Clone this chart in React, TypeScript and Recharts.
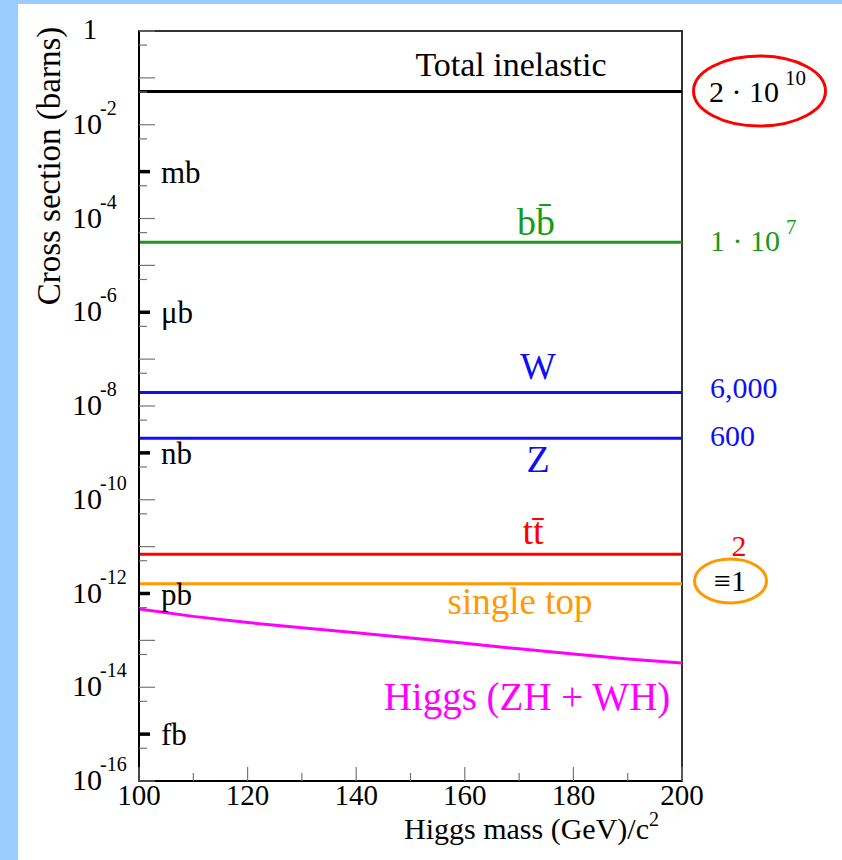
import React from "react";
import { LineChart, Line, XAxis, YAxis, ReferenceArea } from "recharts";

// x range of the plot (Higgs mass, GeV/c^2)
const massRange = [100, 200];
const xTicks = [100, 110, 120, 130, 140, 150, 160, 170, 180, 190, 200];

// y ticks: every decade plus a 5x mark inside each decade
const decadeExps = [0, -1, -2, -3, -4, -5, -6, -7, -8, -9, -10, -11, -12, -13, -14, -15, -16];
const yTicks = decadeExps.flatMap((e) => (e > -16 ? [Math.pow(10, e), 5 * Math.pow(10, e - 1)] : [Math.pow(10, e)]));

const unitExps = [-3, -6, -9, -12, -15];
const unitNames = ["mb", "\u03bcb", "nb", "pb", "fb"];

// flat cross sections (barns)
const processNames = ["Total inelastic", "bb", "W", "Z", "tt", "single top"];
const processValues = [5.1e-2, 3.1e-5, 1.95e-8, 2.05e-9, 6.9e-12, 1.62e-12];
const processColors = ["#000000", "#1a9a1a", "#1010ee", "#1010ee", "#ff0000", "#ff9900"];

// Higgs (ZH + WH) vs mass
const higgsMass = [100, 110, 120, 130, 140, 150, 160, 170, 180, 190, 200];
const higgsXsec = [4.7e-13, 3.25e-13, 2.4e-13, 1.86e-13, 1.45e-13, 1.12e-13, 8.7e-14, 6.6e-14, 5.1e-14, 4.0e-14, 3.3e-14];

const FONT = "'Liberation Serif', 'Times New Roman', Tinos, 'DejaVu Serif', serif";
const serif = { fontFamily: FONT };

const flatData = processValues.map((v) => massRange.map((m) => ({ x: m, y: v })));
const higgsData = higgsMass.map((m, i) => ({ x: m, y: higgsXsec[i] }));

// eslint-disable-next-line @typescript-eslint/no-explicit-any
function YTick({ x, y, payload }: any) {
  const v = payload.value as number;
  const lg = Math.log10(v);
  const exp = Math.round(lg);
  const isDecade = Math.abs(lg - exp) < 1e-6;
  const unitIdx = isDecade ? unitExps.indexOf(exp) : -1;
  return (
    <g>
      {unitIdx >= 0 ? (
        <>
          <line x1={x} x2={x + 11} y1={y} y2={y} stroke="#000" strokeWidth={3.5} />
          <text x={x + 22} y={y + 11} fontSize={31} style={serif} fill="#000">
            {unitNames[unitIdx]}
          </text>
        </>
      ) : (
        <line x1={x} x2={x + (isDecade ? 16 : 8)} y1={y} y2={y} stroke="#777" strokeWidth={1.2} />
      )}
      {isDecade && exp % 2 === 0 &&
        (exp === 0 ? (
          <text x={x - 49} y={y + 8} fontSize={29} style={serif} textAnchor="middle" fill="#000">
            1
          </text>
        ) : (
          <text y={y + 9} fontSize={30} style={serif} fill="#000">
            <tspan x={x - 37} textAnchor="end">10</tspan>
            <tspan x={x - 39} dy={-19} fontSize={20}>{String(exp)}</tspan>
          </text>
        ))}
    </g>
  );
}

// eslint-disable-next-line @typescript-eslint/no-explicit-any
function XTick({ x, y, payload }: any) {
  const v = payload.value as number;
  const major = v % 20 === 0;
  return (
    <g>
      <line x1={x} x2={x} y1={y} y2={y - (major ? 14 : 8)} stroke="#777" strokeWidth={1.2} />
      {major && (
        <text x={x} y={y + 24} fontSize={29} style={serif} textAnchor="middle" fill="#000">
          {v}
        </text>
      )}
    </g>
  );
}

export default function App() {
  return (
    <div style={{ position: "fixed", left: 0, top: 0, width: 842, height: 860, background: "#99ccff", overflow: "hidden" }}>
      <div style={{ position: "absolute", left: 18, top: 4, right: 0, bottom: 0, background: "#fff" }} />
      <div style={{ position: "absolute", left: 0, top: 0 }}>
        <LineChart width={842} height={860} margin={{ top: 31, right: 160, bottom: 0, left: 0 }}>
          <XAxis
            type="number"
            dataKey="x"
            domain={massRange}
            ticks={xTicks}
            interval={0}
            height={79}
            tickSize={0}
            tickMargin={0}
            tick={<XTick />}
            axisLine={{ stroke: "#000", strokeWidth: 2 }}
            allowDataOverflow
          />
          <YAxis
            type="number"
            dataKey="y"
            scale="log"
            domain={[1e-16, 1]}
            ticks={yTicks}
            interval={0}
            width={139}
            tickSize={0}
            tickMargin={0}
            tick={<YTick />}
            axisLine={{ stroke: "#000", strokeWidth: 2 }}
            allowDataOverflow
          />
          <ReferenceArea x1={100} x2={200} y1={1e-16} y2={1} fill="none" stroke="#333" strokeWidth={2} />
          {flatData.map((d, i) => (
            <Line
              key={processNames[i]}
              data={d}
              dataKey="y"
              stroke={processColors[i]}
              strokeWidth={3}
              dot={false}
              isAnimationActive={false}
            />
          ))}
          <Line data={higgsData} dataKey="y" stroke="#ff00ff" strokeWidth={3} dot={false} isAnimationActive={false} />

          {/* annotations */}
          <g style={serif}>
            <text x={511} y={76} fontSize={34} style={serif} textAnchor="middle" fill="#000">Total inelastic</text>
            <text x={536} y={235} fontSize={38} style={serif} textAnchor="middle" fill="#1a9a1a">b{"b\u0304"}</text>
            <text x={538} y={379} fontSize={38} style={serif} textAnchor="middle" fill="#1010ee">W</text>
            <text x={538} y={472} fontSize={38} style={serif} textAnchor="middle" fill="#1010ee">Z</text>
            <text x={533} y={544} fontSize={38} style={serif} textAnchor="middle" fill="#ff0000">t{"t\u0304"}</text>
            <text x={520} y={614} fontSize={37} style={serif} textAnchor="middle" fill="#ff9900">single top</text>
            <text x={527} y={710} fontSize={39} style={serif} textAnchor="middle" fill="#ff00ff">Higgs (ZH + WH)</text>

            <ellipse cx={759.5} cy={91} rx={66} ry={35} fill="none" stroke="#ff0000" strokeWidth={3} />
            <text x={709} y={102} fontSize={30} style={serif} fill="#000">
              2 · 10<tspan dx={6} dy={-17} fontSize={21}>10</tspan>
            </text>
            <text x={710} y={251} fontSize={30} style={serif} fill="#1a9a1a">
              1 · 10<tspan dx={6} dy={-17} fontSize={21}>7</tspan>
            </text>
            <text x={710} y={398} fontSize={30} style={serif} fill="#1010ee">6,000</text>
            <text x={710} y={446} fontSize={30} style={serif} fill="#1010ee">600</text>
            <text x={739} y={556} fontSize={30} style={serif} textAnchor="middle" fill="#ff0000">2</text>
            <ellipse cx={730.5} cy={581} rx={36} ry={22} fill="none" stroke="#ff9900" strokeWidth={3} />
            <text x={730} y={591} fontSize={30} style={serif} textAnchor="middle" fill="#000">≡1</text>

            <text transform="translate(60,166) rotate(-90)" fontSize={33} style={serif} textAnchor="middle" fill="#000">
              Cross section (barns)
            </text>
            <text x={404} y={839} fontSize={30} style={serif} fill="#000">
              Higgs mass (GeV)/c<tspan dy={-13} fontSize={20}>2</tspan>
            </text>
          </g>
        </LineChart>
      </div>
    </div>
  );
}
